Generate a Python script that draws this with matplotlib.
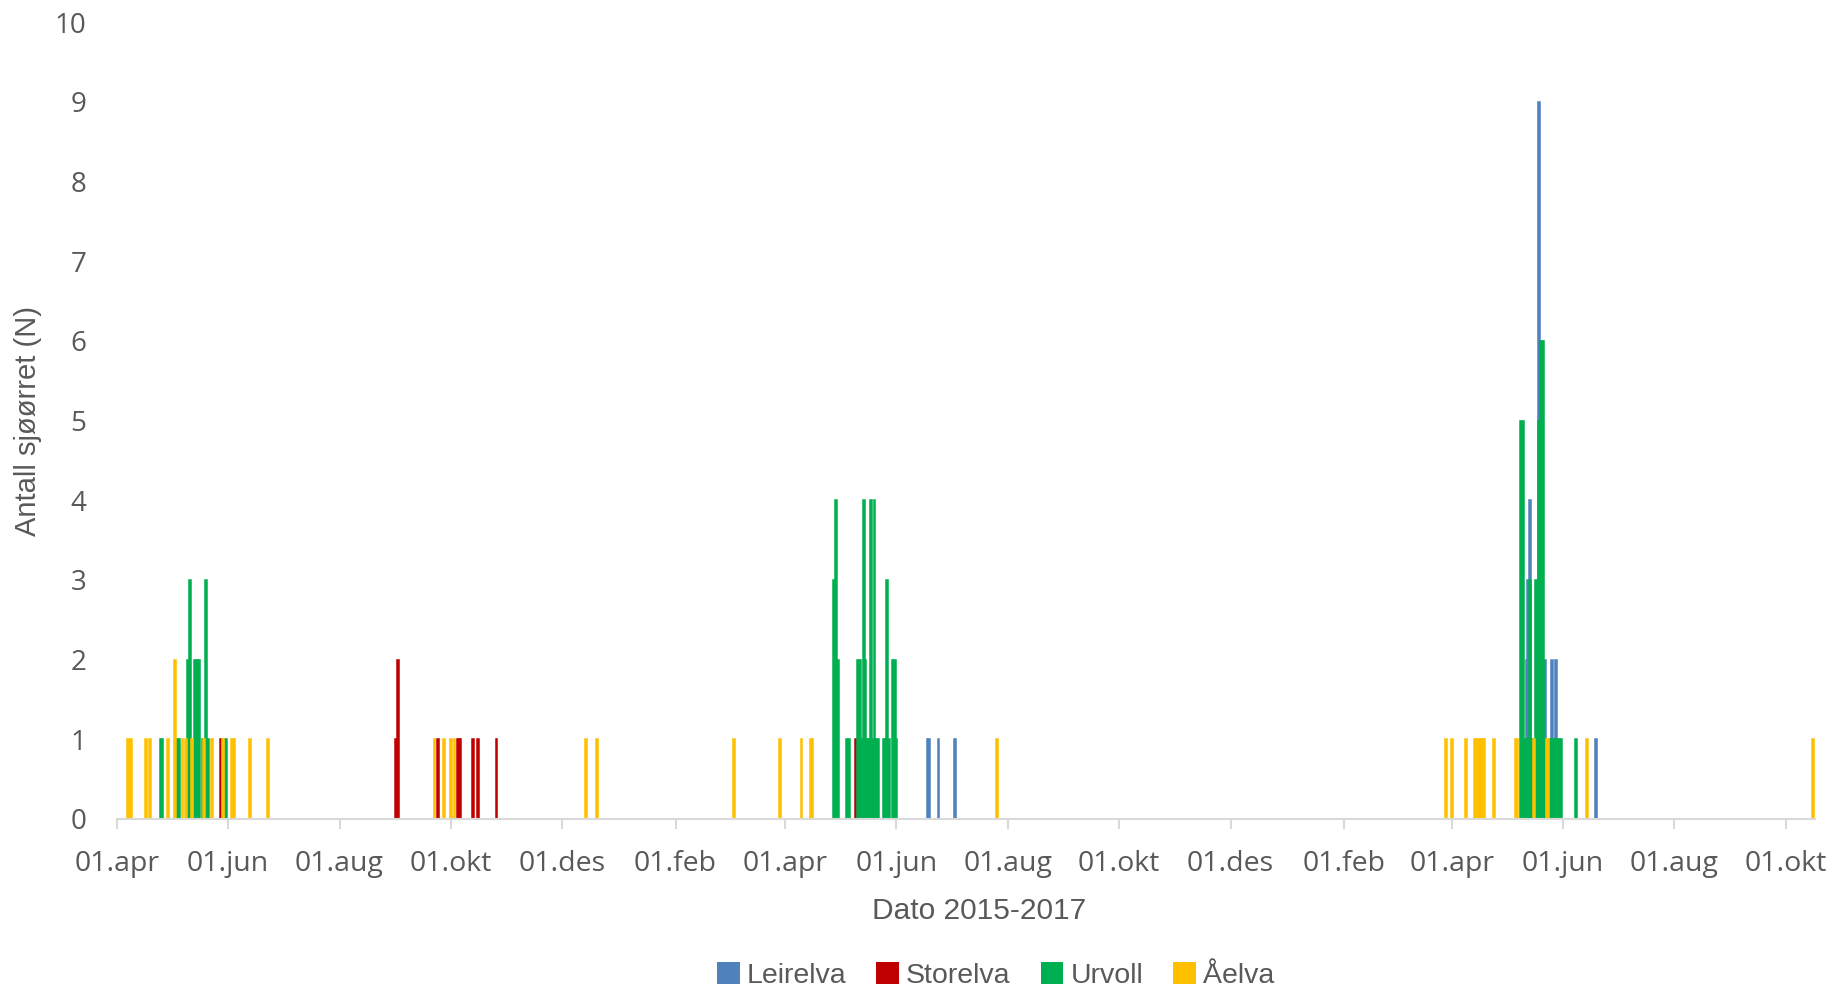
import numpy as np
import pandas as pd
import matplotlib
matplotlib.use("Agg")
import matplotlib.pyplot as plt
from matplotlib.patches import Patch

# dager etter 01.04.2015 og antall sjøørret per elv
start = np.datetime64("2015-04-01")

leirelva_dag = [444, 445, 450, 459, 772, 773, 774, 779, 782, 786, 788, 810]
leirelva_n = [1, 1, 1, 1, 2, 3, 4, 9, 2, 2, 2, 1]

storelva_dag = [57, 153, 154, 176, 187, 188, 195, 198, 208, 405]
storelva_n = [1, 1, 2, 1, 1, 1, 1, 1, 1, 1]

urvoll_dag = [24, 25, 33, 34, 39, 40, 43, 44, 45, 47, 49, 50, 60,
              393, 394, 395, 400, 401, 406, 407, 408, 409, 410, 411, 412, 413,
              414, 415, 416, 417, 420, 421, 422, 423, 425, 426, 427,
              769, 770, 771, 772, 773, 774, 775, 776, 777, 778, 779, 780, 781,
              782, 785, 786, 787, 788, 789, 790, 791, 799]
urvoll_n = [1, 1, 1, 1, 2, 3, 2, 2, 2, 1, 3, 1, 1,
            3, 4, 2, 1, 1, 2, 2, 1, 4, 2, 1, 1, 4,
            1, 4, 1, 1, 1, 1, 3, 1, 2, 2, 1,
            5, 5, 1, 1, 1, 3, 1, 1, 3, 1, 5, 6, 6,
            1, 1, 1, 1, 1, 1, 1, 1, 1]

aelva_dag = [6, 8, 16, 18, 28, 32, 36, 38, 41, 48, 52, 58, 63, 64, 73, 83,
             174, 179, 183, 185, 257, 263, 338, 363, 375, 380, 381, 482,
             728, 731, 739, 744, 745, 746, 747, 748, 749, 754, 766, 767, 776,
             783, 784, 805, 929]
aelva_n = [1, 1, 1, 1, 1, 2, 1, 1, 1, 1, 1, 1, 1, 1, 1, 1,
           1, 1, 1, 1, 1, 1, 1, 1, 1, 1, 1, 1,
           1, 1, 1, 1, 1, 1, 1, 1, 1, 1, 1, 1, 1,
           1, 1, 1, 1]

serier = ["Leirelva", "Storelva", "Urvoll", "Åelva"]
farger = ["#4F81BD", "#C00000", "#00B050", "#FFC000"]
dager = [leirelva_dag, storelva_dag, urvoll_dag, aelva_dag]
antall = [leirelva_n, storelva_n, urvoll_n, aelva_n]

tick_datoer = pd.date_range("2015-04-01", "2017-10-01", freq="2MS")
tick_tekst = ["01.apr", "01.jun", "01.aug", "01.okt", "01.des", "01.feb",
              "01.apr", "01.jun", "01.aug", "01.okt", "01.des", "01.feb",
              "01.apr", "01.jun", "01.aug", "01.okt"]

tekstfarge = "#595959"
akse_farge = "#D9D9D9"
smal = ["Liberation Sans Narrow", "Liberation Sans"]

fig = plt.figure(figsize=(18.47, 9.92), dpi=100)
ax = fig.add_axes([0.0632, 0.1744, 0.9195, 0.8034])

for navn, farge, d, n in zip(serier, farger, dager, antall):
    x = start + np.array(d, dtype="timedelta64[D]")
    ax.bar(x.astype("datetime64[D]").astype(object), n, width=1.0,
           color=farge, edgecolor=farge, linewidth=1.1, label=navn)

ax.set_xlim(start.astype(object), (start + np.timedelta64(930, "D")).astype(object))
ax.set_ylim(0, 10)
ax.set_yticks(range(0, 11))
ax.set_xticks(list(tick_datoer.to_pydatetime()))
ax.set_xticklabels(tick_tekst)

for side in ["left", "right", "top"]:
    ax.spines[side].set_visible(False)
ax.spines["bottom"].set_color(akse_farge)
ax.spines["bottom"].set_linewidth(1.5)

ax.tick_params(axis="x", direction="out", length=7, width=1.5, color=akse_farge,
               pad=15, labelsize=20.5, labelcolor=tekstfarge)
ax.tick_params(axis="y", length=0, pad=22, labelsize=20, labelcolor=tekstfarge)
for lab in ax.get_xticklabels() + ax.get_yticklabels():
    lab.set_fontfamily(["Open Sans", "DejaVu Sans"])

ax.set_ylabel("Antall sjøørret (N)", fontsize=21, color=tekstfarge, family=smal)
ax.yaxis.set_label_coords(-0.044, 0.5)
ax.set_xlabel("Dato 2015-2017", fontsize=21.5, color=tekstfarge, family=smal, va="center")
ax.xaxis.set_label_coords(0.508, -0.115)

handles = [Patch(facecolor=f, edgecolor="none", label=s) for s, f in zip(serier, farger)]
leg = fig.legend(handles=handles, loc="center", bbox_to_anchor=(0.539, 0.017),
                 ncol=4, frameon=False, handlelength=0.8, handleheight=0.8,
                 handletextpad=0.25, columnspacing=1.05,
                 prop={"family": smal, "size": 20.5})
for t in leg.get_texts():
    t.set_color(tekstfarge)

fig.savefig("out.png", dpi=100)
